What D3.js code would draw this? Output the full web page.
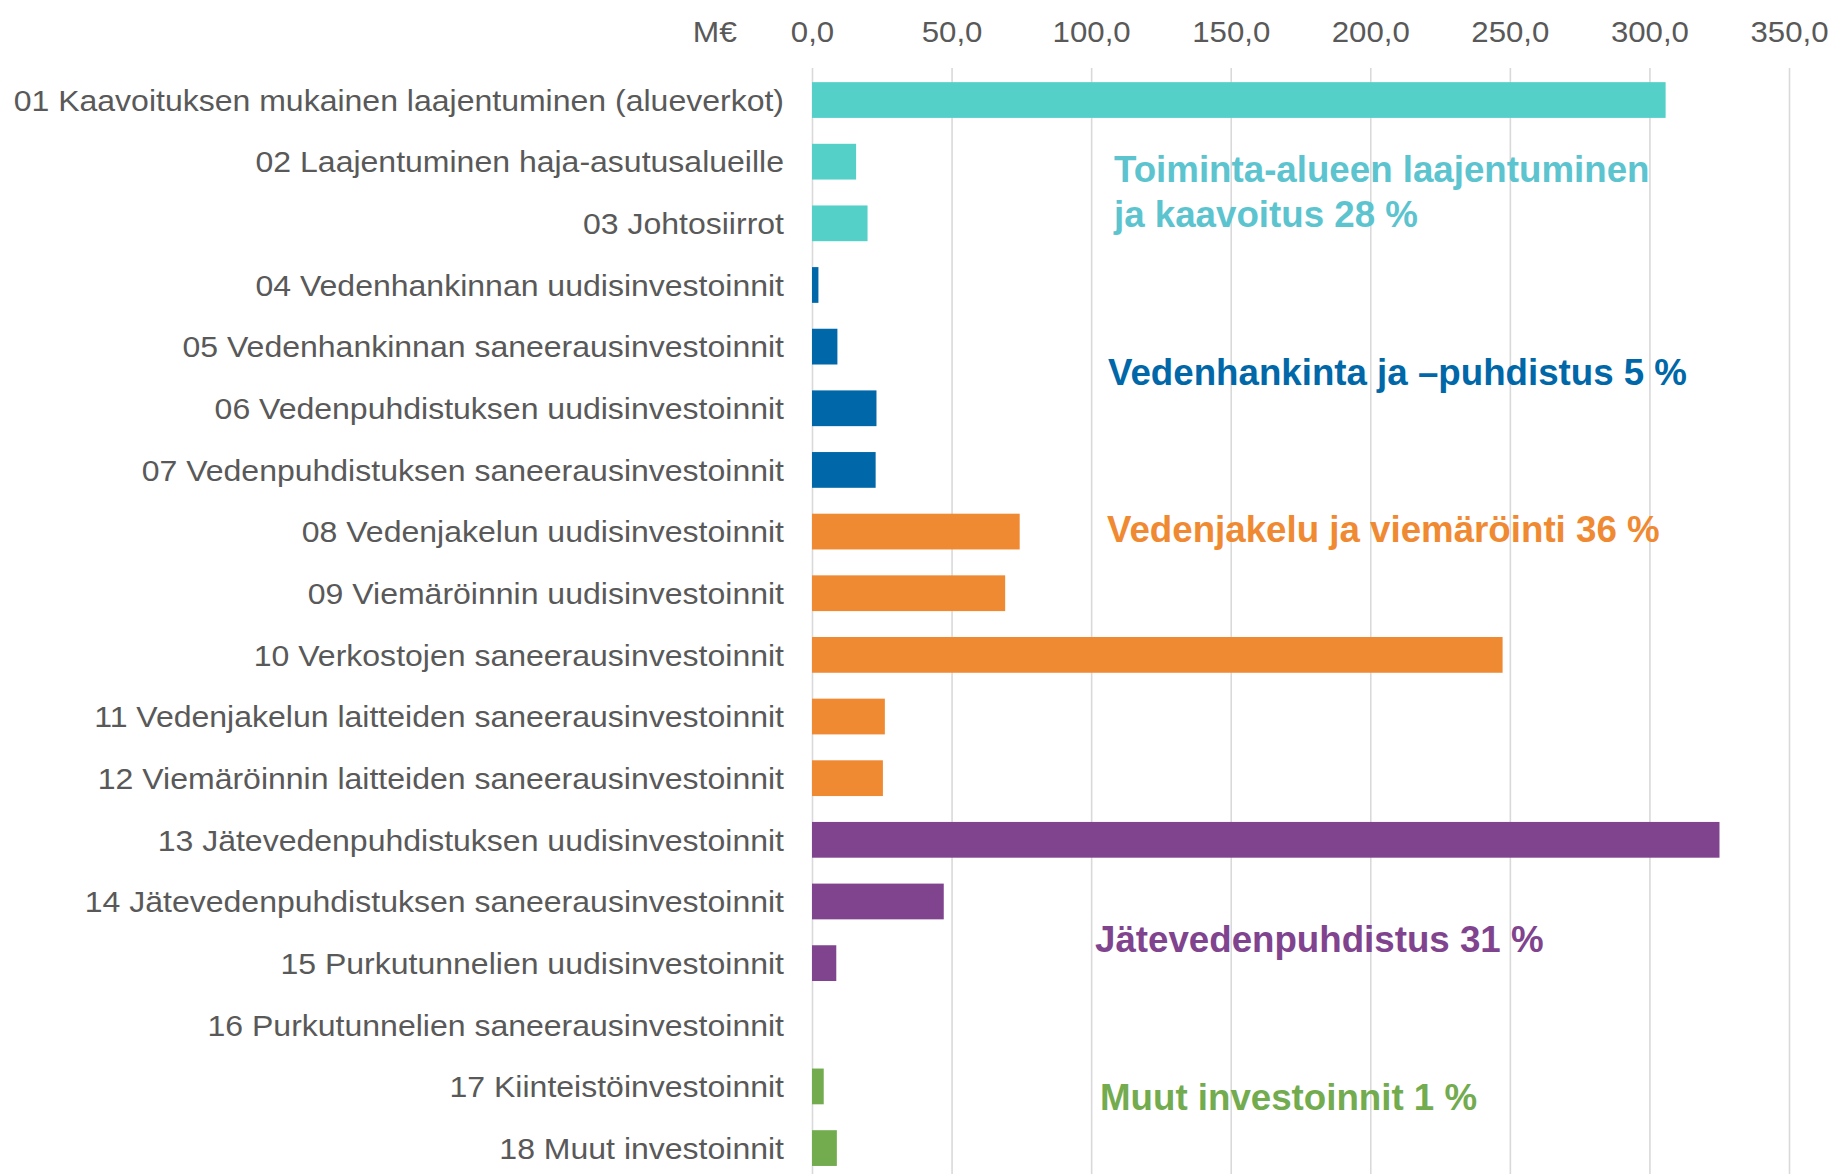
<!DOCTYPE html>
<html>
<head>
<meta charset="utf-8">
<script src="https://cdn.jsdelivr.net/npm/d3@7"></script>
<style>
  body { margin: 0; background: #fff; }
  svg { display: block; font-family: "Liberation Sans", Arial, sans-serif; }
</style>
</head>
<body>
<svg id="chart" width="1834" height="1174"></svg>
<script>
// investment categories, top to bottom
const categories = [
    "01 Kaavoituksen mukainen laajentuminen (alueverkot)",
    "02 Laajentuminen haja-asutusalueille",
    "03 Johtosiirrot",
    "04 Vedenhankinnan uudisinvestoinnit",
    "05 Vedenhankinnan saneerausinvestoinnit",
    "06 Vedenpuhdistuksen uudisinvestoinnit",
    "07 Vedenpuhdistuksen saneerausinvestoinnit",
    "08 Vedenjakelun uudisinvestoinnit",
    "09 Viemäröinnin uudisinvestoinnit",
    "10 Verkostojen saneerausinvestoinnit",
    "11 Vedenjakelun laitteiden saneerausinvestoinnit",
    "12 Viemäröinnin laitteiden saneerausinvestoinnit",
    "13 Jätevedenpuhdistuksen uudisinvestoinnit",
    "14 Jätevedenpuhdistuksen saneerausinvestoinnit",
    "15 Purkutunnelien uudisinvestoinnit",
    "16 Purkutunnelien saneerausinvestoinnit",
    "17 Kiinteistöinvestoinnit",
    "18 Muut investoinnit"
];
// M€
const values = [305.8, 15.8, 19.9, 2.3, 9.1, 23.1, 22.8, 74.4, 69.2, 247.4, 26.1, 25.4, 325.1, 47.2, 8.7, 0, 4.2, 8.9];
const groups = [0, 0, 0, 1, 1, 1, 1, 2, 2, 2, 2, 2, 3, 3, 3, 3, 4, 4];

const groupColors = ["#55d0c9", "#0068a8", "#f08a32", "#80448f", "#73ab4f"];
const groupTextColors = ["#5cc4cf", "#0068a8", "#f08a32", "#80448f", "#73ab4f"];
const groupLabels = [
    ["Toiminta-alueen laajentuminen", "ja kaavoitus 28 %"],
    ["Vedenhankinta ja \u2013puhdistus 5 %"],
    ["Vedenjakelu ja viemäröinti 36 %"],
    ["Jätevedenpuhdistus 31 %"],
    ["Muut investoinnit 1 %"]
];
const xTicks = [0, 50, 100, 150, 200, 250, 300, 350];

const svg = d3.select("#chart");
const W = 1834, H = 1174;
const x0 = 812, x1 = 1789;
const gridTop = 68;

const x = d3.scaleLinear().domain([0, 350]).range([x0, x1]);
const y = d3.scaleBand()
    .domain(categories)
    .range([69.2, 1178.9])
    .paddingInner(0.42)
    .paddingOuter(0.21);

const fiLocale = d3.formatLocale({decimal: ",", thousands: "\u00a0", grouping: [3], currency: ["", "\u00a0€"]});
const fmt = fiLocale.format(".1f");

// top axis with full-height gridlines
const axis = d3.axisTop(x)
    .tickValues(xTicks)
    .tickFormat(fmt)
    .tickSizeInner(-(H - gridTop))
    .tickSizeOuter(0)
    .tickPadding(26);

const gx = svg.append("g")
    .attr("transform", `translate(0,${gridTop})`)
    .call(axis);
gx.select(".domain").remove();
gx.selectAll(".tick line")
    .attr("stroke", "#d9d9d9")
    .attr("stroke-width", 1.6);
gx.selectAll(".tick text")
    .attr("fill", "#595959")
    .attr("transform", "scale(1.04,1)")
    .style("font-size", "30px");

svg.append("text")
    .attr("transform", `translate(737,${gridTop - 26}) scale(1.06,1)`)
    .attr("text-anchor", "end")
    .attr("fill", "#595959")
    .style("font-size", "30px")
    .text("M€");

// bars
svg.append("g")
    .selectAll("rect")
    .data(categories)
    .join("rect")
    .attr("x", x(0))
    .attr("y", d => y(d))
    .attr("width", (d, i) => x(values[i]) - x(0))
    .attr("height", y.bandwidth())
    .attr("fill", (d, i) => groupColors[groups[i]]);

// category labels (reference text is slightly wide)
svg.append("g")
    .selectAll("text")
    .data(categories)
    .join("text")
    .attr("transform", d => `translate(784,${y(d) + y.bandwidth() / 2}) scale(1.067,1)`)
    .attr("dy", "0.36em")
    .attr("text-anchor", "end")
    .attr("fill", "#595959")
    .style("font-size", "30px")
    .text(d => d);

// group annotations
const annoPos = [[1114, 182], [1108, 385], [1107, 542], [1095, 952], [1100, 1110]];
groupLabels.forEach((lines, g) => {
    const t = svg.append("text")
        .attr("x", annoPos[g][0])
        .attr("y", annoPos[g][1])
        .attr("fill", groupTextColors[g])
        .style("font-size", "36.7px")
        .style("font-weight", "bold");
    lines.forEach((line, k) => {
        t.append("tspan")
            .attr("x", annoPos[g][0])
            .attr("dy", k === 0 ? 0 : 45)
            .text(line);
    });
});
</script>
</body>
</html>
